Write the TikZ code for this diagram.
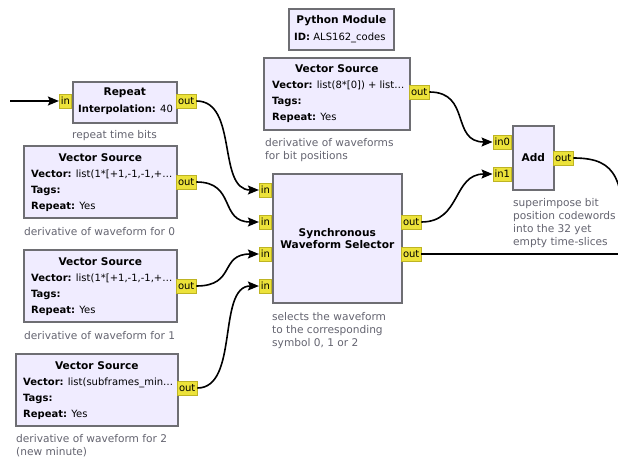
\documentclass[tikz,border=0pt]{standalone}
\usepackage{fontspec}
\setmainfont{DejaVu Sans}
\usetikzlibrary{calc}
\usetikzlibrary{arrows.meta}
\definecolor{blkfill}{RGB}{240,236,255}
\definecolor{blkline}{RGB}{110,110,115}
\definecolor{portfill}{RGB}{236,226,58}
\definecolor{portline}{RGB}{190,180,35}
\definecolor{capgray}{RGB}{100,100,112}
\newcommand{\prm}[2]{\textbf{#1:} #2}

\tikzset{
  every node/.style={font=\fontsize{10.6}{13}\selectfont},
  blk/.style={draw=blkline, fill=blkfill, line width=1.6pt, inner sep=0pt, anchor=north west},
  inport/.style={draw=portline, fill=portfill, line width=.8pt, inner xsep=1.6pt, inner ysep=0pt, minimum height=14pt, anchor=east, font=\fontsize{10}{12}\selectfont},
  outport/.style={inport, anchor=west},
  title/.style={font=\fontsize{10.6}{12.5}\selectfont\bfseries, inner sep=0pt, align=center},
  params/.style={anchor=north west, align=left, inner sep=0pt, font=\fontsize{10}{16}\selectfont},
  blknote/.style={text=capgray, anchor=north west, align=left, inner sep=0pt, font=\fontsize{10.6}{12.8}\selectfont},
  wire/.style={line width=1.6pt},
  feed/.style={wire, -{Stealth[length=11pt,width=9pt,inset=2pt]}}
}

\begin{document}
\begin{tikzpicture}[x=1pt,y=-1pt]
\useasboundingbox (0,0) rectangle (618,457);
\clip (0,0) rectangle (618,457);
\fill[white] (0,0) rectangle (618,457);

% Python module
\node[blk, minimum width=105pt, minimum height=41pt] (pym) at (288,8) {};
\node[title] (pym-t) at ($(pym.north)+(0,13)$) {Python Module};
\node[params] (pym-p) at ($(pym.north west)+(6,25)$) {\prm{ID}{ALS162\_codes}};

% repeat the time bits
\node[blk, minimum width=104pt, minimum height=41pt] (rep) at (72,81) {};
\node[title] (rep-t) at ($(rep.north)+(0,12)$) {Repeat};
\node[params] (rep-p) at ($(rep.north west)+(6,24)$) {\prm{Interpolation}{40}};
\node[inport] (rep-i) at (72,101) {in};
\node[outport] (rep-o) at (176,101) {out};
\node[blknote] (rep-c) at ($(rep.south west)+(0,7)$) {repeat time bits};
\coordinate (src) at (10,101);

% waveform sources
\node[blk, minimum width=153pt, minimum height=72pt] (vs0) at (23,145) {};
\node[title] (vs0-t) at ($(vs0.north)+(0,13)$) {Vector Source};
\node[params] (vs0-p) at ($(vs0.north west)+(8,25)$) {\prm{Vector}{list(1*[+1,-1,-1,+\ldots}\\\textbf{Tags:}\\\prm{Repeat}{Yes}};
\node[outport] (vs0-o) at (176,182) {out};
\node[blknote] (vs0-c) at ($(vs0.south west)+(1,9)$) {derivative of waveform for 0};

\node[blk, minimum width=153pt, minimum height=72pt] (vs1) at (23,249) {};
\node[title] (vs1-t) at ($(vs1.north)+(0,13)$) {Vector Source};
\node[params] (vs1-p) at ($(vs1.north west)+(8,25)$) {\prm{Vector}{list(1*[+1,-1,-1,+\ldots}\\\textbf{Tags:}\\\prm{Repeat}{Yes}};
\node[outport] (vs1-o) at (176,286) {out};
\node[blknote] (vs1-c) at ($(vs1.south west)+(1,9)$) {derivative of waveform for 1};

\node[blk, minimum width=162pt, minimum height=72pt] (vs2) at (15,353) {};
\node[title] (vs2-t) at ($(vs2.north)+(0,13)$) {Vector Source};
\node[params] (vs2-p) at ($(vs2.north west)+(8,25)$) {\prm{Vector}{list(subframes\_min\ldots}\\\textbf{Tags:}\\\prm{Repeat}{Yes}};
\node[outport] (vs2-o) at (177,388) {out};
\node[blknote] (vs2-c) at ($(vs2.south west)+(1,8)$) {derivative of waveform for 2\\(new minute)};

\node[blk, minimum width=146pt, minimum height=72pt] (vst) at (263,57) {};
\node[title] (vst-t) at ($(vst.north)+(0,12)$) {Vector Source};
\node[params] (vst-p) at ($(vst.north west)+(9,24)$) {\prm{Vector}{list(8*[0]) + list\ldots}\\\textbf{Tags:}\\\prm{Repeat}{Yes}};
\node[outport] (vst-o) at (409,92) {out};
\node[blknote] (vst-c) at ($(vst.south west)+(2,8)$) {derivative of waveforms\\for bit positions};

% selector
\node[blk, minimum width=129pt, minimum height=129pt] (sw) at (272,173) {};
\node[title] (sw-t) at (sw.center) {Synchronous\\Waveform Selector};
\node[inport] (sw-i0) at (272,190) {in};
\node[inport] (sw-i1) at (272,222) {in};
\node[inport] (sw-i2) at (272,254) {in};
\node[inport] (sw-i3) at (272,286) {in};
\node[outport] (sw-o0) at (401,222) {out};
\node[outport] (sw-o1) at (401,254) {out};
\node[blknote] (sw-c) at ($(sw.south west)+(0,9)$) {selects the waveform\\to the corresponding\\symbol 0, 1 or 2};

% adder
\node[blk, minimum width=41pt, minimum height=64pt] (add) at (512,125) {};
\node[title] (add-t) at (add.center) {Add};
\node[inport] (add-i0) at (512,142) {in0};
\node[inport] (add-i1) at (512,174) {in1};
\node[outport] (add-o) at (553,158) {out};
\node[blknote] (add-c) at ($(add.south west)+(1,8)$) {superimpose bit\\position codewords\\into the 32 yet\\empty time-slices};
\coordinate (sink0) at (624,250);
\coordinate (sink1) at (630,254);

% connections
\draw[feed] (src) -- (rep-i.west);
\draw[feed] (rep-o.east) .. controls +(42,0) and +(-42,0) .. (sw-i0.west);
\draw[feed] (vs0-o.east) .. controls +(40,0) and +(-40,0) .. (sw-i1.west);
\draw[feed] (vs1-o.east) .. controls +(40,0) and +(-40,0) .. (sw-i2.west);
\draw[feed] (vs2-o.east) .. controls +(42,0) and +(-42,0) .. (sw-i3.west);
\draw[feed] (vst-o.east) .. controls +(42,0) and +(-42,0) .. (add-i0.west);
\draw[feed] (sw-o0.east) .. controls +(40,0) and +(-40,0) .. (add-i1.west);
\draw[wire] (sw-o1.east) -- (sink1);
\draw[wire] (add-o.east) .. controls +(45,0) and +(0,-70) .. (sink0);
\end{tikzpicture}
\end{document}
